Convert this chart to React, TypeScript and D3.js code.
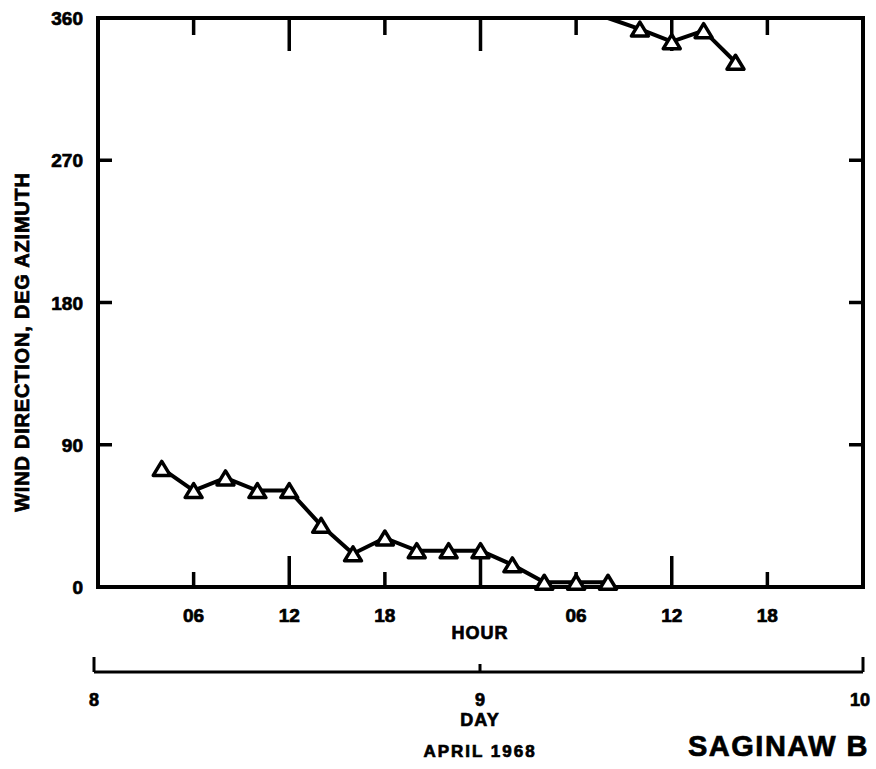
import React from "react";
import * as d3 from "d3";

const hoursA = [4, 6, 8, 10, 12, 14, 16, 18, 20, 22, 24, 26, 28, 30, 32];
const dirA = [75, 61, 69, 61, 61, 39, 21, 31, 23, 23, 23, 14, 3, 3, 3];
const hoursB = [32, 34, 36, 38, 40];
const dirB = [360, 353, 345, 352, 332];
const markedB = [false, true, true, true, true];

const yTicks = [0, 90, 180, 270, 360];
const hourTicks = [6, 12, 18, 24, 30, 36, 42];
const hourTickLabels = ["06", "12", "18", "", "06", "12", "18"];
const dayTicks = [8, 9, 10];

const W = 876;
const H = 769;
const FONT = "'Liberation Sans', Arial, Helvetica, sans-serif";

export default function App() {
  const x = d3.scaleLinear().domain([0, 48]).range([98, 863]);
  const y = d3.scaleLinear().domain([0, 360]).range([587, 18]);
  const xDay = d3.scaleLinear().domain([8, 10]).range([94, 866]);

  const line = d3
    .line<[number, number]>()
    .x((d) => x(d[0]))
    .y((d) => y(d[1]));

  const ptsA: [number, number][] = hoursA.map((h, i) => [h, dirA[i]]);
  const ptsB: [number, number][] = hoursB.map((h, i) => [h, dirB[i]]);

  const tri = (cx: number, cy: number) => {
    const w = 8.5;
    const h = 7;
    return `M${cx},${cy - h} L${cx + w},${cy + h} L${cx - w},${cy + h} Z`;
  };

  const [x0, x1] = x.range();
  const [yb, yt] = y.range();
  const shortT = 15;
  const longT = 31;
  const ts = { stroke: "#000", strokeWidth: 0.7 };

  return (
    <svg
      width={W}
      height={H}
      style={{ position: "absolute", left: 0, top: 0, background: "#fff" }}
      fontFamily={FONT}
      fontWeight="bold"
    >
      <rect x={0} y={0} width={W} height={H} fill="#fff" />
      <rect
        x={x0}
        y={yt}
        width={x1 - x0}
        height={yb - yt}
        fill="none"
        stroke="#000"
        strokeWidth={4}
      />
      {yTicks.slice(1, -1).map((v) => (
        <g key={"yt" + v}>
          <line x1={x0} x2={x0 + 14} y1={y(v)} y2={y(v)} stroke="#000" strokeWidth={3.5} />
          <line x1={x1} x2={x1 - 14} y1={y(v)} y2={y(v)} stroke="#000" strokeWidth={3.5} />
        </g>
      ))}
      {yTicks.map((v) => (
        <text key={"yl" + v} x={83} y={y(v) + 7} fontSize={19} textAnchor="end" {...ts}>
          {v}
        </text>
      ))}
      {hourTicks.map((h) => {
        const len = h % 12 === 0 ? longT : shortT;
        return (
          <g key={"xt" + h}>
            <line x1={x(h)} x2={x(h)} y1={yb} y2={yb - len} stroke="#000" strokeWidth={3.5} />
            <line x1={x(h)} x2={x(h)} y1={yt} y2={yt + len + 2} stroke="#000" strokeWidth={3.5} />
          </g>
        );
      })}
      {hourTickLabels.map((lab, i) => (
        <text key={"xl" + i} x={x(hourTicks[i])} y={622} fontSize={19} textAnchor="middle" {...ts}>
          {lab}
        </text>
      ))}
      <text x={480} y={639} fontSize={18} textAnchor="middle" letterSpacing={1} {...ts}>
        HOUR
      </text>

      <text
        transform={`translate(29,342) rotate(-90)`}
        fontSize={20}
        textAnchor="middle"
        letterSpacing={0.8}
        {...ts}
      >
        WIND DIRECTION, DEG AZIMUTH
      </text>

      <path d={line(ptsA) || ""} fill="none" stroke="#000" strokeWidth={4} strokeLinejoin="round" />
      <path d={line(ptsB) || ""} fill="none" stroke="#000" strokeWidth={4} strokeLinejoin="round" />
      {ptsA.map((p, i) => (
        <path key={"ma" + i} d={tri(x(p[0]), y(p[1]))} fill="#fff" stroke="#000" strokeWidth={3.5} strokeLinejoin="round" />
      ))}
      {ptsB.map((p, i) =>
        markedB[i] ? (
          <path key={"mb" + i} d={tri(x(p[0]), y(p[1]))} fill="#fff" stroke="#000" strokeWidth={3.5} strokeLinejoin="round" />
        ) : null
      )}

      <line x1={xDay(8)} x2={xDay(10) - 3} y1={672} y2={672} stroke="#000" strokeWidth={3} />
      {dayTicks.map((d, i) => (
        <line
          key={"dt" + d}
          x1={xDay(d) - (i === 2 ? 3 : 0)}
          x2={xDay(d) - (i === 2 ? 3 : 0)}
          y1={672}
          y2={i === 1 ? 664 : 657}
          stroke="#000"
          strokeWidth={3}
        />
      ))}
      {dayTicks.map((d, i) => (
        <text key={"dl" + d} x={xDay(d) - (i === 2 ? 6 : 0)} y={706} fontSize={18} textAnchor="middle" {...ts}>
          {d}
        </text>
      ))}
      <text x={xDay(9)} y={726} fontSize={18} textAnchor="middle" letterSpacing={1} {...ts}>
        DAY
      </text>
      <text x={xDay(9)} y={757} fontSize={17} textAnchor="middle" letterSpacing={2} {...ts}>
        APRIL 1968
      </text>
      <text x={688} y={756} fontSize={29} letterSpacing={1.5} {...ts}>
        SAGINAW B
      </text>
    </svg>
  );
}
